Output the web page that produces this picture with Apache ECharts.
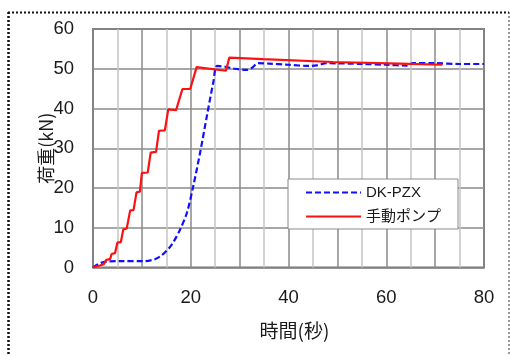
<!DOCTYPE html>
<html>
<head>
<meta charset="utf-8">
<script src="https://cdn.jsdelivr.net/npm/echarts@6/dist/echarts.min.js"></script>
<style>
  html, body { margin: 0; padding: 0; background: #fff; }
  #chart { width: 510px; height: 356px; }
</style>
</head>
<body>
<div id="chart"></div>
<script>
// Load (kN) versus time (s) for the two loading methods
const seriesNames = ['DK-PZX', '手動ポンプ'];

// DK-PZX: [time s, load kN]
const dkTime = [0, 1, 2, 3, 6, 10.6, 12.7, 14.0, 15.5, 16.5, 17.8, 19.2, 20.5, 21.9, 23.3, 24.6, 25.4,
  27, 29, 31.4, 32.5, 33.8, 36, 40, 44.4, 46, 47.8, 55, 60, 64.2, 65.5, 70, 75, 80];
const dkLoad = [0, 0.8, 1.3, 1.5, 1.6, 1.6, 2.1, 3.0, 4.8, 6.5, 9.5, 13.7, 20.4, 28.8, 38.1, 46.5, 50.7,
  50.5, 50.0, 49.7, 50.2, 51.4, 51.3, 51.0, 50.7, 50.9, 51.4, 51.2, 51.0, 50.8, 51.4, 51.4, 51.2, 51.2];

// Hand pump: [time s, load kN]
const pumpTime = [0, 1.4, 2.2, 2.7, 3.5, 3.8, 4.5, 5.0, 5.7, 6.2, 6.9, 7.6, 8.3, 8.9, 9.6, 10.0, 11.2,
  11.8, 12.9, 13.5, 14.7, 15.4, 17.0, 18.3, 19.9, 21.2, 27.2, 27.9, 34.8, 49.1, 62.8, 71.5];
const pumpLoad = [0, 0.5, 0.8, 1.9, 2.1, 3.4, 3.6, 6.3, 6.4, 9.6, 9.8, 14.3, 14.5, 18.9, 19.1, 23.8, 23.9,
  28.9, 29.1, 34.4, 34.5, 39.8, 39.6, 44.9, 44.9, 50.4, 49.5, 52.8, 52.4, 51.7, 51.3, 51.0];

// Axis ranges and tick labels
const xMin = 0, xMax = 80, xGridStep = 5, xLabelStep = 20;
const yMin = 0, yMax = 60, yStep = 10;
const xAxisTitle = '時間(秒)';
const yAxisTitle = '荷重(kN)';

const zip = (xs, ys) => xs.map((x, i) => [x, ys[i]]);

const chart = echarts.init(document.getElementById('chart'), null, { renderer: 'canvas' });

const baseFont = "'Liberation Sans', Arial, 'Noto Sans CJK JP', sans-serif";

chart.setOption({
  backgroundColor: '#ffffff',
  animation: false,
  textStyle: { fontFamily: baseFont, color: '#1a1a1a' },
  grid: {
    left: 93, right: 26, top: 29, height: 238.5,
    show: true, borderColor: '#707070', borderWidth: 2, backgroundColor: '#fff'
  },
  xAxis: {
    type: 'value', min: xMin, max: xMax, interval: xGridStep,
    name: xAxisTitle, nameLocation: 'middle', nameGap: 54, nameMoveOverlap: false,
    nameTextStyle: { fontSize: 19, color: '#1a1a1a', padding: [0, 0, 0, 12], fontFamily: "'Noto Sans CJK JP', sans-serif" },
    axisLine: { show: false },
    axisTick: { show: false },
    axisLabel: {
      margin: 21, fontSize: 18.5, color: '#1a1a1a', showMaxLabel: true,
      formatter: v => (v % xLabelStep === 0 ? String(v) : '')
    },
    splitLine: { show: true, lineStyle: { color: ['#8a8a8a', '#c4c4c4'], width: 1.5 } }
  },
  yAxis: {
    type: 'value', min: yMin, max: yMax, interval: yStep,
    name: yAxisTitle, nameLocation: 'middle', nameGap: 38, nameRotate: 90, nameMoveOverlap: false,
    nameTextStyle: { fontSize: 18, color: '#1a1a1a', fontFamily: "'Noto Sans CJK JP', sans-serif" },
    axisLine: { show: false },
    axisTick: { show: false },
    axisLabel: { margin: 19, fontSize: 18.5, color: '#1a1a1a' },
    splitLine: { show: true, lineStyle: { color: '#8a8a8a', width: 1.5 } }
  },
  legend: {
    orient: 'vertical',
    left: 288, top: 179,
    padding: [6, 17, 5, 17],
    itemWidth: 55, itemHeight: 14, itemGap: 9,
    backgroundColor: '#ffffff',
    borderColor: '#8a8a8a', borderWidth: 1,
    itemStyle: { opacity: 0 },
    textStyle: { fontSize: 15, color: '#1a1a1a', fontFamily: baseFont },
    data: seriesNames
  },
  series: [
    {
      name: seriesNames[0], type: 'line', data: zip(dkTime, dkLoad),
      symbol: 'none', smooth: 0.3,
      lineStyle: { color: '#1010ff', width: 2.2, type: [6, 3] },
      itemStyle: { color: '#1010ff' }, z: 3
    },
    {
      name: seriesNames[1], type: 'line', data: zip(pumpTime, pumpLoad),
      symbol: 'none',
      lineStyle: { color: '#ff1010', width: 2.2 },
      itemStyle: { color: '#ff1010' }, z: 4
    }
  ],
  graphic: [
    // dotted frame around the figure
    { type: 'line', shape: { x1: 8, y1: 12.5, x2: 509, y2: 12.5 }, style: { stroke: '#111', lineWidth: 2, lineDash: [2, 2] }, silent: true },
    { type: 'line', shape: { x1: 8.5, y1: 12, x2: 8.5, y2: 360 }, style: { stroke: '#111', lineWidth: 2.5, lineDash: [2, 2] }, silent: true },
    { type: 'line', shape: { x1: 509, y1: 12, x2: 509, y2: 360 }, style: { stroke: '#333', lineWidth: 1, lineDash: [2, 2] }, silent: true }
  ]
});
</script>
</body>
</html>
